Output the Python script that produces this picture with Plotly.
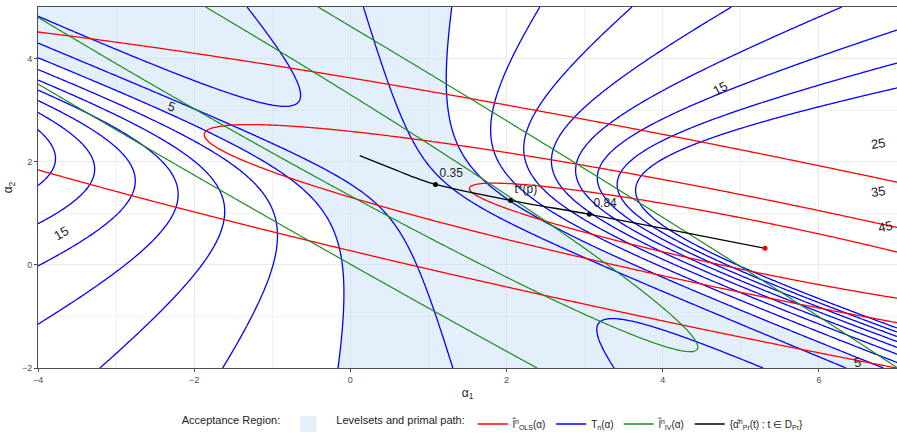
import numpy as np
import plotly.graph_objects as go

# ---- plotting window -------------------------------------------------------
x_range = [-4.0, 7.0]
y_range = [-2.0, 5.0]

# ---- OLS loss: quadratic form centred at the OLS estimate -----------------
ols_center = [5.31, 0.32]
ols_matrix = [[0.1117, 0.307], [0.307, 1.0]]
ols_levels = [0.25, 0.9, 3.3]

# ---- IV loss: quadratic form centred at the IV estimate -------------------
iv_center = [-2.66, 4.66]
iv_matrix = [[0.7122, 0.787], [0.787, 0.8945]]
iv_levels = [1.0, 4.9]

# ---- test statistic T_n = scale * (l_IV + a) / (l_OLS + b) + shift -------
tn_scale = 5.95
tn_shift = 0.8
iv_offset = 0.863
ols_offset = 1.5
tn_levels = [2.7, 5, 7, 9, 11, 13, 15, 17, 19, 21]

# ---- acceptance region: {T_n <= critical value} or {l_IV <= iv bound} -----
critical_value = 7.0
iv_bound = 1.0

# ---- primal path ----------------------------------------------------------
path_x = [0.12, 0.40, 0.63, 0.85, 1.09, 2.05, 3.06, 4.20, 5.31]
path_y = [2.12, 1.95, 1.81, 1.68, 1.56, 1.25, 0.98, 0.65, 0.32]
marked_x = [1.09, 2.05, 3.06]
marked_y = [1.56, 1.25, 0.98]
marked_text = ["0.35", "t*(p)", "0.84"]
end_x = [5.31]
end_y = [0.32]

# ---- inline contour labels ------------------------------------------------
label_text = ["5", "15", "15", "25", "35", "45", "5"]
label_x = [-2.29, -3.71, 4.73, 6.76, 6.76, 6.85, 6.50]
label_y = [3.07, 0.61, 3.42, 2.35, 1.42, 0.75, -1.90]
label_angle = [18, -30, -28, -8, -8, -12, -10]

# ---- colours --------------------------------------------------------------
col_ols = "#FF0000"
col_tn = "#0000FF"
col_iv = "#1A8C1A"
col_path = "#000000"
col_accept = "rgba(196,220,248,0.45)"
col_accept_key = "#E6F0FB"

FONT = "Liberation Sans, Arial, sans-serif"

# ---- evaluate the surfaces ------------------------------------------------
xs = np.linspace(x_range[0], x_range[1], 441)
ys = np.linspace(y_range[0], y_range[1], 281)
X, Y = np.meshgrid(xs, ys)


def quad_form(center, m):
    dx = X - center[0]
    dy = Y - center[1]
    return m[0][0] * dx ** 2 + 2 * m[0][1] * dx * dy + m[1][1] * dy ** 2


L_ols = quad_form(ols_center, ols_matrix)
L_iv = quad_form(iv_center, iv_matrix)
T_n = tn_scale * (L_iv + iv_offset) / (L_ols + ols_offset) + tn_shift
accept = np.minimum(T_n / critical_value, L_iv / iv_bound)

fig = go.Figure()

# acceptance region (shaded where accept <= 1)
fig.add_trace(go.Contour(
    x=xs, y=ys, z=accept,
    contours=dict(type="constraint", operation=">", value=1.0),
    fillcolor=col_accept, line=dict(width=0, color="rgba(0,0,0,0)"),
    showscale=False, hoverinfo="skip", showlegend=False,
))


def level_trace(z, level, color, width=1.3):
    return go.Contour(
        x=xs, y=ys, z=z,
        contours=dict(start=level, end=level, size=1, coloring="lines"),
        colorscale=[[0, color], [1, color]], line=dict(width=width),
        showscale=False, hoverinfo="skip", showlegend=False,
    )


# level sets
for lv in tn_levels:
    fig.add_trace(level_trace(T_n, lv, col_tn))
for lv in ols_levels:
    fig.add_trace(level_trace(L_ols, lv, col_ols))
for lv in iv_levels:
    fig.add_trace(level_trace(L_iv, lv, col_iv, width=1.2))

# primal path
fig.add_trace(go.Scatter(
    x=path_x, y=path_y, mode="lines", line=dict(color=col_path, width=1.3, shape="spline"),
    hoverinfo="skip", showlegend=False,
))
fig.add_trace(go.Scatter(
    x=marked_x, y=marked_y, mode="markers+text", text=marked_text,
    textposition="top right", textfont=dict(family=FONT, size=12, color="#222222"),
    marker=dict(color=col_path, size=5), hoverinfo="skip", showlegend=False,
))
fig.add_trace(go.Scatter(
    x=end_x, y=end_y, mode="markers", marker=dict(color=col_ols, size=5),
    hoverinfo="skip", showlegend=False,
))

# contour labels
for t, lx, ly, ang in zip(label_text, label_x, label_y, label_angle):
    fig.add_annotation(x=lx, y=ly, text=t, showarrow=False, textangle=ang,
                       font=dict(family=FONT, size=13, color="#222222"))

# legend entries
fig.add_trace(go.Scatter(
    x=[None], y=[None], mode="markers", name=" ",
    marker=dict(symbol="square", size=16, color=col_accept_key), legend="legend",
))
legend_items = [
    ("l\u0302<sup>n</sup><sub>OLS</sub>(\u03b1)", col_ols),
    ("T<sub>n</sub>(\u03b1)", col_tn),
    ("l\u0302<sup>n</sup><sub>IV</sub>(\u03b1)", col_iv),
    ("{\u03b1\u0302<sup>n</sup><sub>Pr</sub>(t) : t \u2208 D<sub>Pr</sub>}", col_path),
]
for name, c in legend_items:
    fig.add_trace(go.Scatter(
        x=[None], y=[None], mode="lines", name=name,
        line=dict(color=c, width=1.6), legend="legend2",
    ))

axis_common = dict(
    showline=True, linecolor="#4D4D4D", linewidth=1, mirror=True,
    ticks="outside", ticklen=3, tickcolor="#4D4D4D",
    tickfont=dict(family=FONT, size=9, color="#4D4D4D"),
    showgrid=True, gridcolor="#EBEBEB", gridwidth=1,
    zeroline=False,
)

fig.update_layout(
    width=897, height=439,
    margin=dict(l=38, r=0, t=7, b=69),
    paper_bgcolor="white", plot_bgcolor="white",
    font=dict(family=FONT, size=11, color="#222222"),
    xaxis=dict(range=x_range, tickvals=[-4, -2, 0, 2, 4, 6],
               minor=dict(dtick=1, showgrid=True, gridcolor="#F2F2F2", gridwidth=0.6),
               title=dict(text="\u03b1<sub>1</sub>", font=dict(family=FONT, size=12, color="#222222"), standoff=4),
               **axis_common),
    yaxis=dict(range=y_range, tickvals=[-2, 0, 2, 4],
               minor=dict(dtick=1, showgrid=True, gridcolor="#F2F2F2", gridwidth=0.6),
               title=dict(text="\u03b1<sub>2</sub>", font=dict(family=FONT, size=12, color="#222222"), standoff=6),
               **axis_common),
    legend=dict(orientation="h", x=0.165, y=-0.155, xanchor="left", yanchor="middle",
                title=dict(text="Acceptance Region:", side="left", font=dict(size=11)),
                font=dict(size=10), bgcolor="rgba(0,0,0,0)", itemwidth=30),
    legend2=dict(orientation="h", x=0.345, y=-0.155, xanchor="left", yanchor="middle",
                 title=dict(text="Levelsets and primal path:", side="left", font=dict(size=11)),
                 font=dict(size=10), bgcolor="rgba(0,0,0,0)", itemwidth=30),
)

fig.write_html("out.html")
